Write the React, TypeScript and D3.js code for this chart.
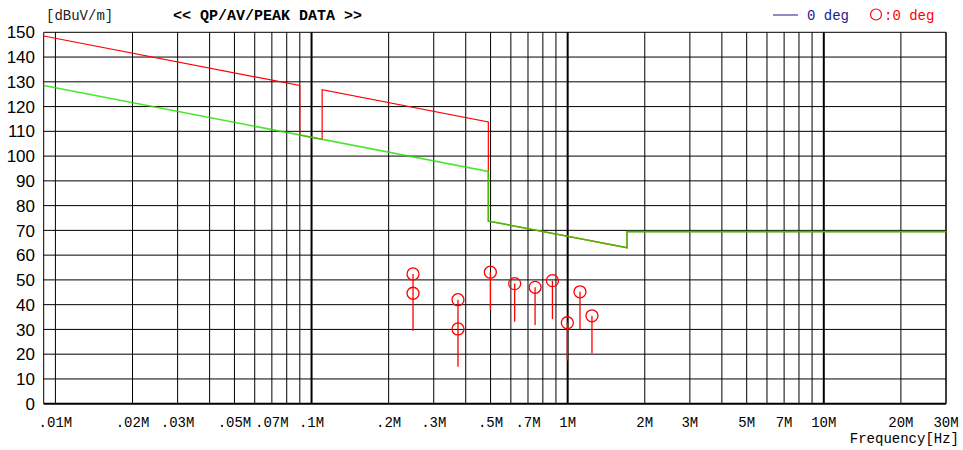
import * as d3 from "d3";

// frequency in MHz, level in dBuV/m
const yTicks = d3.range(0, 160, 10);
const xTickLabels: [number, string][] = [
  [0.01, ".01M"], [0.02, ".02M"], [0.03, ".03M"], [0.05, ".05M"], [0.07, ".07M"],
  [0.1, ".1M"], [0.2, ".2M"], [0.3, ".3M"], [0.5, ".5M"], [0.7, ".7M"],
  [1, "1M"], [2, "2M"], [3, "3M"], [5, "5M"], [7, "7M"],
  [10, "10M"], [20, "20M"], [30, "30M"],
];
const decades = [0.01, 0.1, 1, 10];

// limit lines (peak = red, average / qp = green)
const redLimit: [number, number][] = [
  [0.009, 148.5], [0.09, 128.5], [0.09, 108.5], [0.11, 106.8], [0.11, 126.8],
  [0.49, 113.8], [0.49, 93.8], [0.49, 73.8], [1.705, 63.0], [1.705, 69.5], [30, 69.5],
];
const greenLimit: [number, number][] = [
  [0.009, 128.5], [0.49, 93.8], [0.49, 73.8], [1.705, 63.0], [1.705, 69.5], [30, 69.5],
];

// measured points
const peakFreq = [0.249, 0.373, 0.499, 0.621, 0.746, 0.872, 0.997, 1.117, 1.244];
const peakTop = [52.4, 42.0, 53.1, 48.5, 47.0, 49.7, 32.7, 45.2, 35.5];
const peakSecond = [44.6, 30.2, null, null, null, null, null, null, null];
const peakBottom = [29.5, 14.9, 37.8, 33.1, 31.8, 34.2, 17.4, 30.0, 20.4];

const W = 963;
const H = 450;
const mono = "'Liberation Mono', 'DejaVu Sans Mono', monospace";

export default function App() {
  const x = d3.scaleLog().domain([0.009, 30]).range([43.7, 946]);
  const y = d3.scaleLinear().domain([0, 150]).range([403.7, 32.3]);
  const line = d3
    .line<[number, number]>()
    .x((d) => x(d[0]))
    .y((d) => y(d[1]));

  // minor vertical grid: 1..9 in each decade
  const vlines: number[] = [];
  decades.forEach((d) => {
    for (let m = 1; m <= 9; m++) {
      const v = d * m;
      if (v <= 30.0001) vlines.push(v);
    }
  });

  return (
    <svg
      width={W}
      height={H}
      style={{ position: "absolute", left: 0, top: 0, background: "#fff" }}
    >
      {/* horizontal grid */}
      {yTicks.map((t) => (
        <line
          key={"h" + t}
          x1={x(0.009)}
          x2={x(30)}
          y1={y(t)}
          y2={y(t)}
          stroke="#000"
          strokeWidth={t === 0 ? 2 : 1}
        />
      ))}
      {/* vertical grid */}
      {vlines.map((v) => (
        <line
          key={"v" + v}
          x1={x(v)}
          x2={x(v)}
          y1={y(150)}
          y2={y(0)}
          stroke="#000"
          strokeWidth={decades.slice(1).some((d) => Math.abs(d - v) < 1e-9) ? 2 : 1}
        />
      ))}
      <line x1={x(0.009)} x2={x(0.009)} y1={y(150)} y2={y(0)} stroke="#000" strokeWidth={1} />
      <line x1={x(30)} x2={x(30)} y1={y(150)} y2={y(0)} stroke="#000" strokeWidth={1} />

      {/* limits */}
      <path d={line(redLimit)!} fill="none" stroke="#ff0000" strokeWidth={1.2} />
      <path d={line(greenLimit)!} fill="none" stroke="#22e000" strokeOpacity={0.82} strokeWidth={1.6} />

      {/* peaks */}
      {peakFreq.map((f, i) => (
        <g key={"p" + i} stroke="#ff0000" fill="none" strokeWidth={1.3}>
          <line x1={x(f)} x2={x(f)} y1={y(peakTop[i])} y2={y(peakBottom[i])} />
          <circle cx={x(f)} cy={y(peakTop[i])} r={6} />
          {peakSecond[i] != null && <circle cx={x(f)} cy={y(peakSecond[i]!)} r={6} />}
        </g>
      ))}

      {/* y labels */}
      {yTicks.map((t) => (
        <text
          key={"yl" + t}
          x={35}
          y={y(t)}
          dy="0.36em"
          textAnchor="end"
          fontFamily="'Liberation Sans', Arial, sans-serif"
          fontSize={17}
          fill="#000"
        >
          {t}
        </text>
      ))}
      {/* x labels */}
      {xTickLabels.map(([v, s]) => (
        <text
          key={"xl" + s}
          x={x(v)}
          y={427}
          textAnchor="middle"
          fontFamily={mono}
          fontSize={14}
          fill="#000"
        >
          {s}
        </text>
      ))}
      <text x={959} y={443} textAnchor="end" fontFamily={mono} fontSize={14} fill="#000">
        Frequency[Hz]
      </text>

      {/* header */}
      <text x={46} y={20} fontFamily={mono} fontSize={14} fill="#222">
        [dBuV/m]
      </text>
      <text x={173} y={20} fontFamily={mono} fontSize={15} fontWeight="bold" fill="#000">
        {"<< QP/AV/PEAK DATA >>"}
      </text>
      <line x1={773} x2={798} y1={15} y2={15} stroke="#1a1a8c" strokeWidth={1} />
      <text x={807} y={20} fontFamily={mono} fontSize={14} fill="#1a1a8c">
        0 deg
      </text>
      <circle cx={876} cy={14.5} r={5.5} fill="none" stroke="#ff0000" strokeWidth={1.2} />
      <text x={884} y={20} fontFamily={mono} fontSize={14} fill="#ff0000">
        :0 deg
      </text>
    </svg>
  );
}
